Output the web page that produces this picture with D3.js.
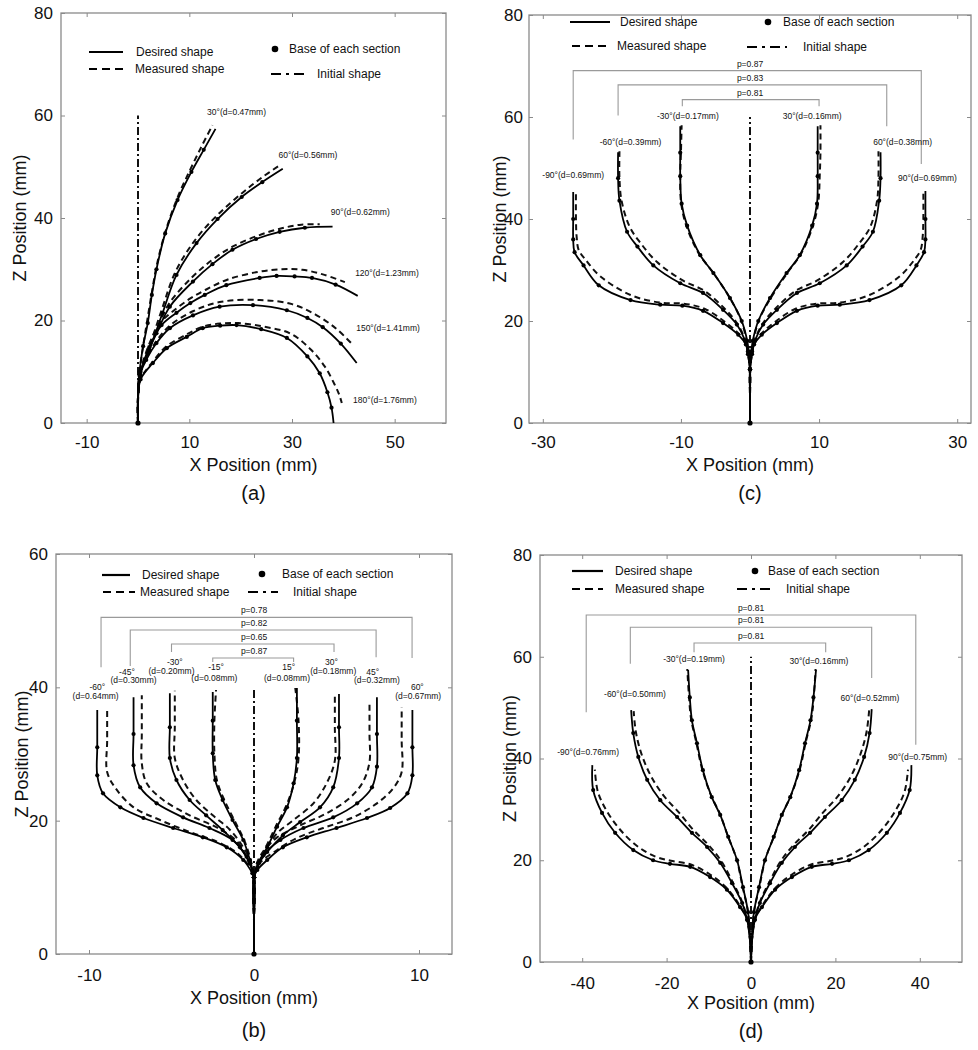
<!DOCTYPE html>
<html><head><meta charset="utf-8">
<script src="https://cdn.jsdelivr.net/npm/d3@7"></script>
<style>
body{margin:0;background:#fff}
svg{display:block}
text{font-family:"Liberation Sans",Arial,Helvetica,sans-serif;fill:#111}
</style>
</head><body>
<svg id="chart" width="978" height="1050"></svg>
<script>
// ---------------- DATA ----------------
// tick values
const aXTicks = [-10, 10, 30, 50];
const aYTicks = [0, 20, 40, 60, 80];
const bXTicks = [-10, 0, 10];
const bYTicks = [0, 20, 40, 60];
const cXTicks = [-30, -10, 10, 30];
const cYTicks = [0, 20, 40, 60, 80];
const dXTicks = [-40, -20, 0, 20, 40];
const dYTicks = [0, 20, 40, 60, 80];

// panel (a): desired (D) and measured (M) shapes, [x, z] in mm
const aInitial = [[0,0],[0,60]];
const a30D = [[0,0],[0,5],[0.3,10],[1.0,15],[1.9,19.5],[2.7,25],[3.6,30],[5.3,37],[7.7,43.5],[10.4,49],[12.8,53.3],[15.1,57.4]];
const a30M = [[0,0],[0,5],[0.3,10],[1.0,15],[1.8,20],[2.7,25.5],[3.7,31],[5.4,37.5],[7.7,44],[10.2,49.5],[12.4,54],[14.5,58.1]];
const a60D = [[0,0],[0,5],[0.5,10],[2.2,14.2],[4.8,21.5],[7.5,28.9],[11.4,35.1],[15.5,39.8],[20.2,44.1],[24.2,47],[28.2,49.6]];
const a60M = [[0,0],[0,5],[0.5,10],[2.1,14.5],[4.6,22],[7.3,29.5],[11.2,35.8],[15.5,40.6],[20.2,44.8],[24,47.8],[27.6,50.3]];
const a90D = [[0,0],[0,5],[0.4,9.5],[1.3,12.3],[3.6,17.5],[6.2,22.7],[10.7,27.6],[14.5,31],[18.4,33.8],[23,35.9],[27.6,37.3],[32.5,38.1],[37.9,38.3]];
const a90M = [[0,0],[0,5],[0.4,9.5],[1.3,12.5],[3.5,17.8],[6,23.2],[10.4,28.3],[14.3,31.7],[18.4,34.4],[23.5,36.6],[28,38],[31.8,38.7],[35.4,38.8]];
const a120D = [[0,0],[0,5],[0.4,9.3],[2.2,14.8],[4.6,19.1],[7.5,21.5],[10.2,23.4],[13,25],[17.2,26.9],[23.7,28.3],[27,28.7],[30.5,28.6],[33.9,28.3],[38.5,27],[42.8,24.8]];
const a120M = [[0,0],[0,5],[0.4,9.5],[2.1,15.2],[4.4,19.6],[7.3,22.2],[10.2,24.3],[13.2,26],[17.5,28],[23.5,29.5],[28,30],[32,29.9],[36,29],[40.3,27.5]];
const a150D = [[0,0],[0,5],[0.3,9.2],[1.6,12.3],[3.6,15.6],[6.2,18.5],[10.7,21],[15.9,22.7],[22.4,23],[29,22],[33,20.5],[36,18.7],[39.5,15.5],[42.6,11.7]];
const a150M = [[0,0],[0,5],[0.3,9.2],[1.6,12.5],[3.6,16],[6.2,19],[10.7,21.8],[15.9,23.6],[23.7,24],[30,23.2],[34.5,21.2],[38.5,18.5],[41.9,15.2]];
const a180D = [[0,0],[0,4],[0.5,8.5],[2.9,11.7],[5.6,14.6],[9.5,16.8],[12.6,18.5],[16,19],[19.2,19.1],[24,18.3],[29,16.6],[33,13],[35.4,9.7],[36.9,6],[37.7,3],[38.1,0]];
const a180M = [[0,0],[0,4],[0.5,8.5],[2.9,12],[5.6,15],[9.5,17.3],[12.6,18.8],[16,19.4],[19.5,19.5],[24.5,18.8],[29.6,17.5],[33.5,14.5],[36.4,11],[38.3,7.5],[39.2,5.5],[39.7,3.9]];
const aAngleLabels = ["30°(d=0.47mm)","60°(d=0.56mm)","90°(d=0.62mm)","120°(d=1.23mm)","150°(d=1.41mm)","180°(d=1.76mm)"];

// panel (b)
const bInitial = [[0,0],[0,40]];
const bM60D = [[0,0],[0,5],[0,11.5],[-0.1,12.1],[-0.65,14.1],[-1.65,16],[-3.1,17.5],[-4.9,18.9],[-6.7,20.4],[-8.1,22],[-9.15,24.1],[-9.5,26.8],[-9.5,31],[-9.5,36.6]];
const bM60M = [[0,0],[0,5],[0,11.5],[-0.2,12.8],[-1,15.1],[-2.2,16.8],[-3.9,18.3],[-5.7,20.1],[-7.3,22],[-8.4,24.9],[-8.9,27.3],[-8.9,32],[-8.9,37]];
const bM45D = [[0,0],[0,5],[0,11.5],[-0.1,12.5],[-0.45,14.6],[-1.3,17.1],[-2.7,18.9],[-4.3,20.5],[-5.9,22.6],[-6.9,25],[-7.3,28.3],[-7.3,33],[-7.3,38.5]];
const bM45M = [[0,0],[0,5],[0,11.5],[-0.2,13],[-1,16.8],[-2.2,18.9],[-3.9,20.8],[-5.5,23.1],[-6.5,25.6],[-6.8,28.6],[-6.8,33],[-6.8,38.8]];
const bM30D = [[0,0],[0,5],[0,11.5],[-0.25,13.6],[-0.85,16],[-1.9,18.6],[-2.9,20.8],[-3.9,23.1],[-4.7,26.1],[-5.1,29.4],[-5.1,34],[-5.1,39.1]];
const bM30M = [[0,0],[0,5],[0,11.5],[-0.2,13.8],[-0.65,16],[-1.45,18.6],[-2.5,20.8],[-3.5,23.1],[-4.3,26.1],[-4.8,29.4],[-4.8,34],[-4.8,39.5]];
const bM15D = [[0,0],[0,5],[0,11.5],[-0.25,14.1],[-0.65,17.1],[-1.3,20.1],[-1.9,23.1],[-2.35,26.1],[-2.5,30.1],[-2.5,35],[-2.5,39.3]];
const bM15M = [[0,0],[0,5],[0,11.5],[-0.2,14.1],[-0.6,17.1],[-1.2,20.1],[-1.8,23.1],[-2.25,26.1],[-2.4,30.1],[-2.4,35],[-2.3,39.6]];
const bP15D = [[0,0],[0,5],[0,11.5],[0.25,13.6],[0.8,16],[1.4,19.1],[2,22],[2.4,25.6],[2.6,29.4],[2.6,35],[2.6,39.9]];
const bP15M = [[0,0],[0,5],[0,11.5],[0.2,13.8],[0.75,16.2],[1.35,19.3],[1.95,22.2],[2.45,25.8],[2.7,29.4],[2.7,35],[2.5,39.9]];
const bP30D = [[0,0],[0,5],[0,11.5],[0.3,13.6],[0.8,15.3],[1.75,17.8],[2.8,19.8],[4,22],[4.8,25],[5.15,29.4],[5.15,34],[5.15,39]];
const bP30M = [[0,0],[0,5],[0,11.5],[0.3,13.8],[0.7,15.6],[1.4,18.1],[2.4,20.1],[3.6,22.6],[4.4,25.6],[4.9,29],[4.9,34],[4.9,39.2]];
const bP45D = [[0,0],[0,5],[0,11.5],[0.2,13],[0.55,14.8],[1.6,17.1],[3,18.9],[4.8,20.5],[6.25,22.6],[7.15,25],[7.45,28.1],[7.45,33],[7.45,38.5]];
const bP45M = [[0,0],[0,5],[0,11.5],[0.3,14],[0.8,16],[1.4,17.5],[2.8,19.3],[4.4,21.1],[5.8,23.4],[6.6,25.8],[7,28.8],[7,33],[7,38]];
const bP60D = [[0,0],[0,5],[0,11.5],[0.2,12.6],[0.8,14.1],[1.75,16],[3.2,17.5],[5,18.9],[6.85,20.4],[8.25,21.9],[9.3,24.1],[9.6,26.8],[9.6,31],[9.6,36.6]];
const bP60M = [[0,0],[0,5],[0,11.5],[0.3,13.5],[1.4,15.6],[2.6,17.4],[4.2,18.9],[6,20.5],[7.45,22.6],[8.45,24.9],[8.95,27.3],[8.95,32],[8.95,37]];
const bAngleLabels = ["-60°","-45°","-30°","-15°","15°","30°","45°","60°"];
const bDistLabels = ["(d=0.64mm)","(d=0.30mm)","(d=0.20mm)","(d=0.08mm)","(d=0.08mm)","(d=0.18mm)","(d=0.32mm)","(d=0.67mm)"];
const bPValues = ["p=0.78","p=0.82","p=0.65","p=0.87"];

// panel (c)
const cInitial = [[0,0],[0,60]];
const cM30D = [[0,0],[0,5],[0,10.5],[-0.2,14],[-0.4,16.1],[-1.2,20],[-2.9,24.5],[-5.3,29.4],[-7.2,32.9],[-9.1,38.7],[-9.9,43],[-10.1,48.4],[-10.1,53],[-10.1,58.2]];
const cM30M = [[0,0],[0,5],[0,10.5],[-0.2,14],[-0.5,16.3],[-1.3,20.2],[-3,24.7],[-5.4,29.6],[-7.4,33.2],[-9.3,39],[-10,43.5],[-10.1,48.6],[-10,53],[-9.9,58.4]];
const cM60D = [[0,0],[0,5],[0,10.5],[-0.3,14],[-0.7,16.1],[-1.9,19.3],[-3.9,22.2],[-6.8,25.5],[-10.1,27.4],[-14,30.9],[-16.3,34.6],[-17.8,37.5],[-18.9,43.6],[-19.1,48],[-19.1,53.1]];
const cM60M = [[0,0],[0,5],[0,10.5],[-0.3,14],[-0.7,16.3],[-1.9,19.6],[-3.8,22.6],[-6.6,25.9],[-9.8,28],[-13.5,31.6],[-15.8,35.2],[-17.4,38.4],[-18.6,43.6],[-18.9,48],[-18.9,53.3]];
const cM90D = [[0,0],[0,5],[0,10.5],[-0.3,13.5],[-0.6,15.4],[-1.7,17.3],[-3.9,19.6],[-6.8,22],[-9.8,23],[-13,23.2],[-17.3,24.1],[-21.9,27],[-24.1,30.9],[-25.4,33.5],[-25.6,36],[-25.6,40],[-25.6,45.3]];
const cM90M = [[0,0],[0,5],[0,10.5],[-0.3,13.5],[-0.6,15.6],[-1.7,17.6],[-3.8,20],[-6.6,22.4],[-9.6,23.4],[-13,23.6],[-17.3,25.1],[-21.7,28.8],[-23.8,32],[-24.8,33.9],[-25.1,36.5],[-25.2,40],[-25.2,45.5]];
const cP30D = [[0,0],[0,5],[0,10.5],[0.2,14],[0.4,16.1],[1.2,20],[2.9,24.5],[5.3,29.4],[7.2,32.9],[9,38.7],[9.7,43],[9.8,48.4],[9.8,53],[9.8,58.2]];
const cP30M = [[0,0],[0,5],[0,10.5],[0.2,14],[0.5,16.3],[1.3,20.2],[3.1,24.7],[5.5,29.6],[7.4,33.2],[9.2,39],[9.9,43.5],[10.1,48.6],[10.2,53],[10.2,58.4]];
const cP60D = [[0,0],[0,5],[0,10.5],[0.3,14],[0.7,16.1],[1.9,19.3],[3.9,22.2],[6.8,25.5],[10.1,27.4],[14,30.9],[16.3,34.6],[17.8,37.5],[18.7,43.6],[18.9,48],[18.9,53.1]];
const cP60M = [[0,0],[0,5],[0,10.5],[0.3,14],[0.7,16.3],[1.9,19.6],[3.8,22.6],[6.6,25.9],[9.8,28],[13.5,31.6],[15.8,35.2],[17.4,38.4],[18.4,43.6],[18.6,48],[18.6,53.3]];
const cP90D = [[0,0],[0,5],[0,10.5],[0.3,13.5],[0.6,15.4],[1.7,17.3],[3.9,19.6],[6.8,22],[9.8,23],[13,23.2],[17.3,24.1],[21.9,27],[24.1,30.9],[25.2,33.5],[25.4,36],[25.4,40],[25.4,45.5]];
const cP90M = [[0,0],[0,5],[0,10.5],[0.3,13.5],[0.6,15.6],[1.7,17.6],[3.8,20],[6.6,22.4],[9.6,23.4],[13,23.6],[17.3,25.1],[21.7,28.8],[23.8,32],[24.7,33.9],[25,36.5],[25.1,40],[25.1,45.7]];
const cAngleLabels = ["-30°(d=0.17mm)","30°(d=0.16mm)","-60°(d=0.39mm)","60°(d=0.38mm)","-90°(d=0.69mm)","90°(d=0.69mm)"];
const cPValues = ["p=0.87","p=0.83","p=0.81"];

// panel (d)
const dInitial = [[0,0],[0,60]];
const dM30D = [[0,0],[-0.2,4],[-0.7,9.8],[-1.9,14.7],[-3.3,20],[-5.4,24.6],[-7.3,28.9],[-9.3,32.4],[-11.4,37.7],[-12.8,43],[-14,47.5],[-14.5,52],[-14.9,57.4]];
const dM30M = [[0,0],[-0.2,4],[-0.7,9.8],[-2,14.8],[-3.4,20.2],[-5.5,24.8],[-7.4,29.2],[-9.5,32.8],[-11.6,38],[-13,43.3],[-14.2,47.8],[-14.7,52.3],[-15.1,57.6]];
const dM60D = [[0,0],[-0.2,4],[-0.9,8.3],[-2.1,11.6],[-4.5,15.5],[-7.3,19.5],[-10.4,22.6],[-14,25.4],[-17.5,28.5],[-21.5,31.8],[-24.6,35.8],[-26.7,40.3],[-27.9,45],[-28.4,49.5]];
const dM60M = [[0,0],[-0.2,4],[-0.9,8.3],[-2.1,11.8],[-4.4,15.8],[-7.1,19.9],[-10.2,23.1],[-13.7,26],[-17,29.3],[-20.8,32.8],[-23.8,36.7],[-26,41],[-27.3,45.3],[-27.8,49.3]];
const dM90D = [[0,0],[-0.2,4],[-0.9,8.3],[-2.6,10.8],[-5.7,14.2],[-9.7,16.7],[-14.4,18.7],[-19.2,19.3],[-23.2,20],[-27.9,22],[-32.2,25.4],[-35.3,29.3],[-37.4,33.8],[-37.6,38.7]];
const dM90M = [[0,0],[-0.2,4],[-0.9,8.3],[-2.6,11],[-5.7,14.5],[-9.7,17.2],[-14.4,19.2],[-19,19.9],[-22.6,20.7],[-27,22.8],[-31,26],[-34.2,29.7],[-36.3,33.5],[-37,37.8]];
const dP30D = [[0,0],[0.2,4],[0.7,9.8],[1.9,14.7],[3.3,20],[5.4,24.6],[7.3,28.9],[9.3,32.4],[11.4,37.7],[12.8,43],[14.1,47.5],[14.8,52],[15.4,57.4]];
const dP30M = [[0,0],[0.2,4],[0.7,9.8],[2,14.8],[3.4,20.2],[5.5,24.8],[7.5,29.2],[9.5,32.8],[11.6,38],[13,43.3],[14.3,47.8],[14.9,52.3],[15.3,57.6]];
const dP60D = [[0,0],[0.2,4],[0.9,8.3],[2.1,11.6],[4.5,15.5],[7.3,19.5],[10.4,22.6],[14,25.4],[17.5,28.5],[21.5,31.8],[24.6,35.8],[26.8,40.3],[28.1,45],[28.6,49.7]];
const dP60M = [[0,0],[0.2,4],[0.9,8.3],[2.1,11.8],[4.4,15.8],[7.1,19.9],[10.2,23.1],[13.7,26],[17,29.3],[20.8,32.8],[23.8,36.7],[26,41],[27.4,45.3],[28,49.5]];
const dP90D = [[0,0],[0.2,4],[0.9,8.3],[2.6,10.8],[5.7,14.2],[9.7,16.7],[14.4,18.7],[19.2,19.3],[23.2,20],[27.9,22],[32.2,25.4],[35.3,29.3],[37.6,33.8],[38,38.7]];
const dP90M = [[0,0],[0.2,4],[0.9,8.3],[2.6,11],[5.7,14.5],[9.7,17.2],[14.4,19.2],[19,19.9],[22.6,20.7],[27,22.8],[31,26],[34.2,29.7],[36.4,33.5],[37.2,37.8]];
const dAngleLabels = ["-30°(d=0.19mm)","30°(d=0.16mm)","-60°(d=0.50mm)","60°(d=0.52mm)","-90°(d=0.76mm)","90°(d=0.75mm)"];
const dPValues = ["p=0.81","p=0.81","p=0.81"];

const legendTexts = ["Desired shape","Measured shape","Base of each section","Initial shape"];

// ---------------- LAYOUT ----------------
const panels = [
 {L:61,R:446,T:13,B:423,xDom:[-15,60],yDom:[0,80],xTicks:aXTicks,yTicks:aYTicks,xPad:13,yPad:8,
  curves:[[a30D,a30M],[a60D,a60M],[a90D,a90M],[a120D,a120M],[a150D,a150M],[a180D,a180M]],initial:aInitial,
  labels:aAngleLabels,labelPos:[[19.2,60.7],[33.1,52.3],[43.3,41.2],[48.5,29.3],[48.7,18.5],[48.1,4.5]],
  legend:{solid:[89,123,52,136],dashed:[89,123,69,135],dot:[275,49,289],dashdot:[271,305,74,317]},
  xLabY:465,letterY:493,yLabX:20,letter:"(a)"},
 {L:529,R:971,T:15,B:423,xDom:[-32,32],yDom:[0,80],xTicks:cXTicks,yTicks:cYTicks,xPad:13,yPad:6,
  curves:[[cM30D,cM30M],[cM60D,cM60M],[cM90D,cM90M],[cP30D,cP30M],[cP60D,cP60M],[cP90D,cP90M]],initial:cInitial,
  labels:cAngleLabels,labelPos:[[-9.0,60.1],[9.0,60.1],[-17.3,55.1],[22.1,55.1],[-25.6,48.6],[25.7,48.1]],
  brackets:[[-25.6,24.8,69.1,55.6,50.8],[-19.1,19.8,66.3,60.3,58.2],[-9.8,10,63.4,62.1,62.1]],pvals:cPValues,
  legend:{solid:[570,610,22,620],dashed:[572,608,46,617],dot:[768,22,783],dashdot:[747,787,47,803]},
  xLabY:465,letterY:493,yLabX:500,letter:"(c)"},
 {L:56,R:452,T:554,B:954,xDom:[-12,12],yDom:[0,60],xTicks:bXTicks,yTicks:bYTicks,xPad:15,yPad:8,
  curves:[[bM60D,bM60M],[bM45D,bM45M],[bM30D,bM30M],[bM15D,bM15M],[bP15D,bP15M],[bP30D,bP30M],[bP45D,bP45M],[bP60D,bP60M]],initial:bInitial,
  labels2:[bAngleLabels,bDistLabels],labelPos2:[
    [[-9.5,40.0],[-7.7,42.3],[-4.8,43.8],[-2.3,43.0],[2.1,43.0],[4.7,43.8],[7.2,42.3],[9.9,40.0]],
    [[-9.6,38.7],[-7.3,41.1],[-5.0,42.4],[-2.4,41.4],[2.0,41.4],[4.8,42.4],[7.45,41.1],[9.95,38.7]]],
  brackets:[[-9.27,9.58,50.5,43,44.4],[-7.5,7.4,48.6,43.2,44.5],[-5.0,4.85,46.5,45.3,45.3],[-2.5,2.4,44.4,43.8,43.8]],pvals:bPValues,
  legend:{solid:[102,130,575,142],dashed:[103,135,592,140],dot:[262,574,282],dashdot:[248,278,592,293]},
  xLabY:998,letterY:1030,yLabX:22,letter:"(b)"},
 {L:540,R:962,T:555,B:962,xDom:[-50,50],yDom:[0,80],xTicks:dXTicks,yTicks:dYTicks,xPad:15,yPad:8,
  curves:[[dM30D,dM30M],[dM60D,dM60M],[dM90D,dM90M],[dP30D,dP30M],[dP60D,dP60M],[dP90D,dP90M]],initial:dInitial,
  labels:dAngleLabels,labelPos:[[-13.5,59.6],[16.1,59.2],[-27.5,52.7],[28.2,51.9],[-38.6,41.3],[39.5,40.3]],
  brackets:[[-39.05,39.05,68.2,49.1,42.7],[-28.6,28.6,65.8,58.6,55.8],[-13.5,17.7,62.7,60.9,60.9]],pvals:dPValues,
  legend:{solid:[572,603,571,615],dashed:[572,603,589,615],dot:[755,571,768],dashdot:[737,772,589,786]},
  xLabY:1003,letterY:1031,yLabX:510,letter:"(d)"}
];

// ---------------- DRAW ----------------
const svg = d3.select("#chart");
const frameColor = "#8a8a8a";
const DASH = "6,4", DASHDOT = "8,3,2,3";
const plainFmt = d => String(d);

function styleAxis(sel){
  sel.select(".domain").remove();
  sel.selectAll(".tick line").attr("stroke", frameColor);
  sel.selectAll(".tick text").attr("font-size", 17).attr("fill", "#111")
     .attr("font-family", '"Liberation Sans",Arial,sans-serif');
}

panels.forEach(p => {
  const x = d3.scaleLinear().domain(p.xDom).range([p.L, p.R]);
  const y = d3.scaleLinear().domain(p.yDom).range([p.B, p.T]);
  const g = svg.append("g");

  g.append("rect").attr("x", p.L).attr("y", p.T).attr("width", p.R - p.L).attr("height", p.B - p.T)
    .attr("fill", "none").attr("stroke", frameColor).attr("stroke-width", 1.3);

  g.append("g").attr("transform", `translate(0,${p.B})`)
    .call(d3.axisBottom(x).tickValues(p.xTicks).tickFormat(plainFmt).tickSizeInner(-4).tickSizeOuter(0).tickPadding(p.xPad)).call(styleAxis);
  g.append("g").attr("transform", `translate(0,${p.T})`)
    .call(d3.axisTop(x).tickValues(p.xTicks).tickSizeInner(-4).tickSizeOuter(0).tickFormat(() => "")).call(styleAxis);
  g.append("g").attr("transform", `translate(${p.L},0)`)
    .call(d3.axisLeft(y).tickValues(p.yTicks).tickFormat(plainFmt).tickSizeInner(-4).tickSizeOuter(0).tickPadding(p.yPad)).call(styleAxis);
  g.append("g").attr("transform", `translate(${p.R},0)`)
    .call(d3.axisRight(y).tickValues(p.yTicks).tickSizeInner(-4).tickSizeOuter(0).tickFormat(() => "")).call(styleAxis);

  const cx = (p.L + p.R) / 2, cy = (p.T + p.B) / 2;
  g.append("text").attr("x", cx).attr("y", p.xLabY).attr("text-anchor", "middle").attr("dominant-baseline", "central")
    .attr("font-size", 18).text("X Position (mm)");
  g.append("text").attr("transform", `translate(${p.yLabX},${cy}) rotate(-90)`).attr("text-anchor", "middle")
    .attr("dominant-baseline", "central").attr("font-size", 18).text("Z Position (mm)");
  g.append("text").attr("x", cx).attr("y", p.letterY).attr("text-anchor", "middle").attr("dominant-baseline", "central")
    .attr("font-size", 20).text(p.letter);

  const line = d3.line().x(d => x(d[0])).y(d => y(d[1])).curve(d3.curveCatmullRom.alpha(0.5));

  // brackets
  if (p.brackets) {
    p.brackets.forEach((b, i) => {
      const pts = [[b[0], b[3]], [b[0], b[2]], [b[1], b[2]], [b[1], b[4]]];
      g.append("path").attr("d", d3.line().x(d => x(d[0])).y(d => y(d[1]))(pts))
        .attr("fill", "none").attr("stroke", "#9a9a9a").attr("stroke-width", 1.1);
      g.append("text").attr("x", x(0)).attr("y", y(b[2]) - 4).attr("text-anchor", "middle")
        .attr("font-size", 8.5).attr("fill", "#222").text(p.pvals[i]);
    });
  }

  // initial shape
  g.append("path").attr("d", line(p.initial)).attr("fill", "none").attr("stroke", "#111")
    .attr("stroke-width", 2).attr("stroke-dasharray", DASHDOT);

  // measured shapes
  p.curves.forEach(c => {
    g.append("path").attr("d", line(c[1])).attr("fill", "none").attr("stroke", "#111")
      .attr("stroke-width", 2).attr("stroke-dasharray", DASH);
  });
  // desired shapes
  p.curves.forEach(c => {
    g.append("path").attr("d", line(c[0])).attr("fill", "none").attr("stroke", "#000")
      .attr("stroke-width", 1.8);
  });
  // section bases
  p.curves.forEach(c => {
    g.selectAll(null).data(c[0].filter((d, i) => i >= 2 && i < c[0].length - 1)).join("circle")
      .attr("cx", d => x(d[0])).attr("cy", d => y(d[1])).attr("r", 2.1).attr("fill", "#000");
  });
  g.append("circle").attr("cx", x(0)).attr("cy", y(0)).attr("r", 2.6).attr("fill", "#000");

  // angle labels
  if (p.labels) {
    p.labels.forEach((t, i) => {
      g.append("text").attr("x", x(p.labelPos[i][0])).attr("y", y(p.labelPos[i][1]))
        .attr("text-anchor", "middle").attr("dominant-baseline", "central").attr("font-size", 8.5).text(t);
    });
  }
  if (p.labels2) {
    p.labels2.forEach((arr, k) => arr.forEach((t, i) => {
      g.append("text").attr("x", x(p.labelPos2[k][i][0])).attr("y", y(p.labelPos2[k][i][1]))
        .attr("text-anchor", "middle").attr("dominant-baseline", "central").attr("font-size", 8.5).text(t);
    }));
  }

  // legend
  const lg = p.legend;
  g.append("line").attr("x1", lg.solid[0]).attr("x2", lg.solid[1]).attr("y1", lg.solid[2]).attr("y2", lg.solid[2])
    .attr("stroke", "#000").attr("stroke-width", 2.2);
  g.append("text").attr("x", lg.solid[3]).attr("y", lg.solid[2]).attr("dominant-baseline", "central").attr("font-size", 12).text(legendTexts[0]);
  g.append("line").attr("x1", lg.dashed[0]).attr("x2", lg.dashed[1]).attr("y1", lg.dashed[2]).attr("y2", lg.dashed[2])
    .attr("stroke", "#000").attr("stroke-width", 2.2).attr("stroke-dasharray", "8,5");
  g.append("text").attr("x", lg.dashed[3]).attr("y", lg.dashed[2]).attr("dominant-baseline", "central").attr("font-size", 12).text(legendTexts[1]);
  g.append("circle").attr("cx", lg.dot[0]).attr("cy", lg.dot[1]).attr("r", 3.3).attr("fill", "#000");
  g.append("text").attr("x", lg.dot[2]).attr("y", lg.dot[1]).attr("dominant-baseline", "central").attr("font-size", 12).text(legendTexts[2]);
  g.append("line").attr("x1", lg.dashdot[0]).attr("x2", lg.dashdot[1]).attr("y1", lg.dashdot[2]).attr("y2", lg.dashdot[2])
    .attr("stroke", "#000").attr("stroke-width", 2.2).attr("stroke-dasharray", "10,5,3,5");
  g.append("text").attr("x", lg.dashdot[3]).attr("y", lg.dashdot[2]).attr("dominant-baseline", "central").attr("font-size", 12).text(legendTexts[3]);
});
</script>
</body></html>
